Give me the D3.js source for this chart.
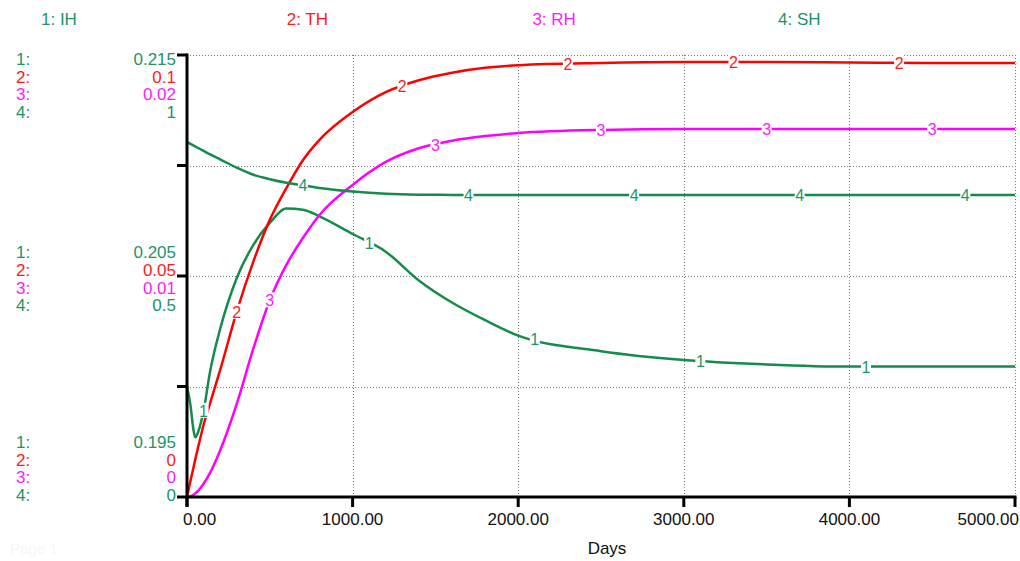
<!DOCTYPE html>
<html>
<head>
<meta charset="utf-8">
<script src="https://cdn.jsdelivr.net/npm/d3@7"></script>
<style>
  html, body { margin: 0; padding: 0; background: #fff; }
  svg { display: block; font-family: "Liberation Sans", Arial, sans-serif; }
</style>
</head>
<body>
<svg id="chart" width="1020" height="561"></svg>
<script>
// Simulation output, sampled in days
const days = [0, 20, 40, 50, 70, 100, 140, 200, 300, 400, 500, 600, 700, 800,
              1000, 1200, 1400, 1600, 1800, 2000, 2500, 3000, 3500, 4000, 4500, 5000];

const ihValues = [0.2000, 0.1992, 0.1980, 0.1977, 0.1980, 0.1989, 0.2007, 0.2026,
                  0.2049, 0.2064, 0.2074, 0.20805, 0.2080, 0.2077, 0.2069, 0.2061,
                  0.2048, 0.2038, 0.2030, 0.2023, 0.2016, 0.2012, 0.2010, 0.2009, 0.2009, 0.2009];

const thValues = [0, 0.0035, 0.0068, 0.0085, 0.0117, 0.0163, 0.0213, 0.0287,
                  0.0419, 0.0532, 0.0627, 0.0699, 0.0762, 0.0808, 0.0871, 0.0916,
                  0.0943, 0.0960, 0.0971, 0.0977, 0.0982, 0.0984, 0.0984, 0.0983, 0.0982, 0.0982];

const rhValues = [0, 0.00003, 0.0001, 0.00016, 0.0003, 0.0006, 0.0011, 0.0021,
                  0.0042, 0.0067, 0.0089, 0.0105, 0.01172, 0.01276, 0.01412, 0.01516,
                  0.01578, 0.01612, 0.01633, 0.01647, 0.01661, 0.01665, 0.01665, 0.01665, 0.01665, 0.01665];

const shValues = [0.803, 0.799, 0.795, 0.793, 0.789, 0.783, 0.775, 0.764,
                  0.745, 0.729, 0.719, 0.711, 0.705, 0.699, 0.691, 0.686,
                  0.684, 0.6835, 0.683, 0.683, 0.683, 0.683, 0.683, 0.683, 0.683, 0.683];

const seriesNames = ["IH", "TH", "RH", "SH"];

// scale ranges and labels of each series (min, mid, max)
const ihDomain = [0.195, 0.215];
const thDomain = [0, 0.1];
const rhDomain = [0, 0.02];
const shDomain = [0, 1];
const ihTickLabels = ["0.195", "0.205", "0.215"];
const thTickLabels = ["0", "0.05", "0.1"];
const rhTickLabels = ["0", "0.01", "0.02"];
const shTickLabels = ["0", "0.5", "1"];

const xTicks = [0, 1000, 2000, 3000, 4000, 5000];
const xTickLabels = ["0.00", "1000.00", "2000.00", "3000.00", "4000.00", "5000.00"];
const xTitle = "Days";

// first day on which each series number is written on its curve (then every 1000 days)
const labelStartDays = [100, 300, 500, 700];

// ---- styling ----
const lineColors = ["#138c4c", "#ff0000", "#ff00ff", "#138c4c"];
const textColors = ["#1e9468", "#ff1a1a", "#ff19ff", "#1e9468"];
const FONT = 17;

const svg = d3.select("#chart");
const plotLeft = 187, plotRight = 1015, plotTop = 55, plotBottom = 497;

const x = d3.scaleLinear().domain([0, 5000]).range([plotLeft, plotRight]);
const domains = [ihDomain, thDomain, rhDomain, shDomain];
const values = [ihValues, thValues, rhValues, shValues];
const tickLabels = [ihTickLabels, thTickLabels, rhTickLabels, shTickLabels];
const yScales = domains.map(d => d3.scaleLinear().domain(d).range([plotBottom, plotTop]));
const yFrac = d3.scaleLinear().domain([0, 1]).range([plotBottom, plotTop]);
const quarters = [0.25, 0.5, 0.75, 1];

// dotted grid
const grid = svg.append("g").attr("stroke", "#7a7a7a").attr("stroke-width", 1)
  .attr("stroke-dasharray", "1,2");
grid.selectAll("line.h").data(quarters).join("line")
  .attr("x1", plotLeft).attr("x2", plotRight)
  .attr("y1", d => Math.round(yFrac(d)) + 0.5).attr("y2", d => Math.round(yFrac(d)) + 0.5);
grid.selectAll("line.v").data(xTicks.slice(1)).join("line")
  .attr("x1", d => Math.round(x(d)) + 0.5).attr("x2", d => Math.round(x(d)) + 0.5)
  .attr("y1", plotTop).attr("y2", plotBottom);

// curves
const plot = svg.append("g");
values.forEach((vals, i) => {
  const line = d3.line()
    .x((d, j) => x(days[j]))
    .y(d => yScales[i](d))
    .curve(d3.curveMonotoneX);
  plot.append("path")
    .attr("d", line(vals))
    .attr("fill", "none")
    .attr("stroke", lineColors[i])
    .attr("stroke-width", 2.5)
    .attr("stroke-linejoin", "round");
});

// series numbers written on the curves
function valueAt(vals, t) {
  for (let j = 1; j < days.length; j++) {
    if (t <= days[j]) {
      const f = (t - days[j - 1]) / (days[j] - days[j - 1]);
      return vals[j - 1] + f * (vals[j] - vals[j - 1]);
    }
  }
  return vals[vals.length - 1];
}
const tags = svg.append("g").attr("font-size", 16);
values.forEach((vals, i) => {
  for (let t = labelStartDays[i]; t < 5000; t += 1000) {
    const px = x(t), py = yScales[i](valueAt(vals, t));
    tags.append("rect")
      .attr("x", px - 5).attr("y", py - 8).attr("width", 10).attr("height", 15)
      .attr("fill", "#fff");
    tags.append("text")
      .attr("x", px).attr("y", py + 6)
      .attr("text-anchor", "middle")
      .attr("fill", textColors[i])
      .text(String(i + 1));
  }
});

// axes
const axes = svg.append("g").attr("stroke", "#000").attr("stroke-width", 3);
axes.append("line").attr("x1", plotLeft).attr("x2", plotLeft).attr("y1", plotTop - 1.5).attr("y2", plotBottom + 10);
axes.append("line").attr("x1", plotLeft - 10).attr("x2", plotRight + 1.5).attr("y1", plotBottom).attr("y2", plotBottom);
axes.selectAll("line.lt").data(quarters).join("line")
  .attr("x1", plotLeft - 10).attr("x2", plotLeft)
  .attr("y1", d => yFrac(d)).attr("y2", d => yFrac(d));
axes.selectAll("line.bt").data(xTicks).join("line")
  .attr("x1", d => x(d)).attr("x2", d => x(d))
  .attr("y1", plotBottom).attr("y2", plotBottom + 10);

// x tick labels and title
const xt = svg.append("g").attr("font-size", FONT).attr("fill", "#111");
xt.selectAll("text").data(xTicks).join("text")
  .attr("x", (d, i) => i === 0 ? x(d) - 4 : (i === xTicks.length - 1 ? x(d) + 4 : x(d)))
  .attr("y", plotBottom + 28)
  .attr("text-anchor", (d, i) => i === 0 ? "start" : (i === xTicks.length - 1 ? "end" : "middle"))
  .text((d, i) => xTickLabels[i]);
svg.append("text").attr("x", 607).attr("y", 554).attr("font-size", FONT)
  .attr("text-anchor", "middle").attr("fill", "#111").text(xTitle);

// header legend
const legend = svg.append("g").attr("font-size", FONT);
seriesNames.forEach((name, i) => {
  legend.append("text").attr("x", 41 + i * 245.7).attr("y", 25)
    .attr("fill", textColors[i]).text((i + 1) + ": " + name);
});

// stacked scale labels at max, mid and min positions
const lineGap = 17.6;
const blocks = [
  { first: yFrac(1) + 10, idx: 2 },
  { first: yFrac(0.5) - lineGap, idx: 1 },
  { first: yFrac(0) - 3 * lineGap + 4, idx: 0 }
];
const scaleText = svg.append("g").attr("font-size", FONT);
blocks.forEach(b => {
  for (let i = 0; i < 4; i++) {
    const yy = b.first + i * lineGap;
    scaleText.append("text").attr("x", 16).attr("y", yy)
      .attr("fill", textColors[i]).text((i + 1) + ":");
    scaleText.append("text").attr("x", 176).attr("y", yy)
      .attr("text-anchor", "end")
      .attr("fill", textColors[i]).text(tickLabels[i][b.idx]);
  }
});

// page footer
svg.append("text").attr("x", 10).attr("y", 554).attr("font-size", 15)
  .attr("fill", "#f6f6f6").text("Page 1");
</script>
</body>
</html>
